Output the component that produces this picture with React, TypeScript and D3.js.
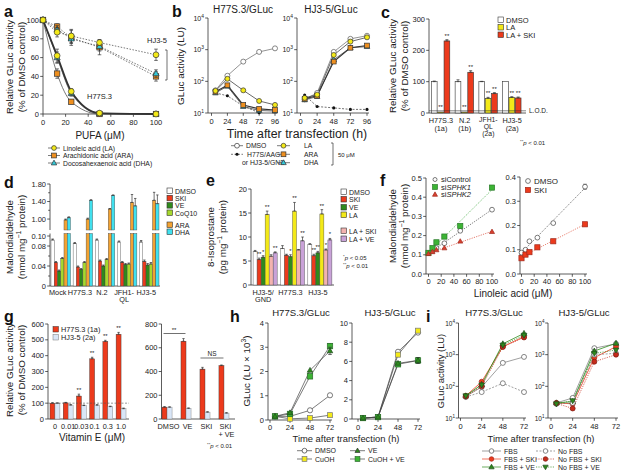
import React, { useEffect, useRef } from "react";
import * as d3 from "d3";

// ---------------- Panel a ----------------
const aConc = [0, 12.5, 25, 50, 100];
const aXTicks = [0, 20, 40, 60, 80, 100];
const aYTicks = [0, 20, 40, 60, 80, 100];
const aH77LA = [100, 62, 24, 1, 0];
const aH77ARA = [100, 43, 13, 0, 0];
const aH77DHA = [100, 60, 22, 0.5, 0];
const aH77LAErr = [0, 7, 3, 0, 0];
const aH77ARAErr = [0, 5, 2, 0, 0];
const aH77DHAErr = [0, 6, 3, 0, 0];
const aHJLA = [100, 87, 83, 76, 63];
const aHJARA = [100, 93, 81, 71, 40];
const aHJDHA = [100, 90, 80, 72, 43];
const aHJLAErr = [0, 5, 7, 3, 6];
const aHJARAErr = [0, 3, 8, 8, 5];
const aHJDHAErr = [0, 4, 5, 5, 4];
const aLegend = ["Linoleic acid (LA)", "Arachidonic acid (ARA)", "Docosahexaenoic acid (DHA)"];

// ---------------- Panel b ----------------
const bTime = [6, 24, 48, 72, 96];
const bXTicks = [0, 24, 48, 72, 96];
const bYTicks = [10, 100, 1000, 10000];
const bH77DMSO = [52, 150, 420, 850, 1100];
const bH77LA = [50, 120, 52, 24, 18];
const bH77ARA = [47, 75, 18, 13.5, 12.5];
const bH77DHA = [43, 70, 16, 12, 11.5];
const bH77GND = [43, 35, 16.5, 10.2];
const bHJDMSO = [27, 43, 850, 2200, 2750];
const bHJLA = [30, 38, 680, 1800, 2450];
const bHJARA = [28, 35, 420, 1150, 1350];
const bHJDHA = [26, 33, 480, 1150, 1250];
const bHJGND = [37, 16, 14.5, 13, 13];

// ---------------- Panel c ----------------
const cCats = ["H77S.3", "N.2", "JFH1-QL", "HJ3-5"];
const cCatLines = [["H77S.3", "(1a)"], ["N.2", "(1b)"], ["JFH1-", "QL", "(2a)"], ["HJ3-5", "(2a)"]];
const cSeries = ["DMSO", "LA", "LA + SKI"];
const cDMSO = [100, 100, 100, 100];
const cLA = [3, 3, 47, 50];
const cLASKI = [230, 130, 62, 48];
const cDMSOErr = [2, 6, 1, 0];
const cLAErr = [0, 0, 3, 2];
const cLASKIErr = [4, 5, 3, 3];
const cYTicks = [0, 100, 200, 300];
const cLOD = 7;

// ---------------- Panel d ----------------
const dCats = ["Mock", "H77S.3", "N.2", "JFH1-QL", "HJ3-5"];
const dSeries = ["DMSO", "SKI", "VE", "CoQ10", "ARA", "DHA"];
const dDMSO = [0.092, 0.085, 0.092, 0.088, 0.088];
const dSKI = [0.047, 0.038, 0.05, 0.047, 0.049];
const dVE = [0.03, 0.033, 0.04, 0.043, 0.042];
const dCoQ10 = [0.055, 0.047, 0.053, 0.044, 0.044];
const dARA = [0.98, 1.0, 1.23, 1.38, 1.43];
const dDHA = [1.03, 1.43, 1.54, 1.3, 1.35];
const dARAErr = [0.02, 0.02, 0.01, 0.18, 0.18];
const dDHAErr = [0.02, 0.01, 0.01, 0.17, 0.2];
const dLowErr = [0.002, 0.002, 0.002, 0.002, 0.003];
const dLowTicks = [0, 0.02, 0.04, 0.06, 0.08, 0.1];
const dLowLabels = ["0", "", "0.04", "", "0.08", "0.10"];
const dUpTicks = [1.0, 1.2, 1.4, 1.6, 1.8];
const dUpLabels = ["1.00", "", "1.40", "", "1.80"];

// ---------------- Panel e ----------------
const eCats = ["HJ3-5/GND", "H77S.3", "HJ3-5"];
const eSeries = ["DMSO", "SKI", "VE", "LA", "LA + SKI", "LA + VE"];
const eDMSO = [7.0, 7.6, 8.5];
const eSKI = [5.3, 6.2, 6.1];
const eVE = [5.8, 5.9, 6.7];
const eLA = [14.7, 15.4, 14.8];
const eLASKI = [6.0, 7.3, 7.3];
const eLAVE = [6.7, 9.2, 9.4];
const eErr = [[0.2, 0.6, 0.1], [0.3, 0.2, 0.3], [0.3, 0.4, 0.3], [0.7, 1.8, 0.9], [0.3, 0.1, 0.2], [0.2, 0.8, 0.3]];
const eStars = [["", "**", "*", "**", "", "**"], ["", "", "*", "**", "", "**"], ["", "**", "**", "**", "*", "*"]];
const eYTicks = [0, 5, 10, 15, 20];

// ---------------- Panel f ----------------
const fConc = [0, 6.25, 12.5, 25, 50, 100];
const fXTicks = [0, 20, 40, 60, 80, 100];
const fSiControl = [0.11, 0.12, 0.135, 0.16, 0.225, 0.335];
const fSiSPHK1 = [0.11, 0.135, 0.165, 0.195, 0.25, 0.45];
const fSiSPHK2 = [0.105, 0.115, 0.125, 0.135, 0.17, 0.22];
const fDMSO = [0.088, 0.1, 0.135, 0.15, 0.21, 0.36];
const fSKI = [0.065, 0.08, 0.09, 0.11, 0.135, 0.205];
const fLeftTicks = [0, 0.1, 0.2, 0.3, 0.4, 0.5];
const fRightTicks = [0, 0.1, 0.2, 0.3, 0.4];

// ---------------- Panel g ----------------
const gDoses = ["0", "0.01", "0.03", "0.1", "0.3", "1.0"];
const gH77 = [100, 102, 145, 380, 490, 535];
const gHJ = [100, 88, 85, 88, 78, 65];
const gH77Err = [3, 3, 12, 10, 7, 12];
const gHJErr = [2, 3, 3, 2, 3, 4];
const gLeftTicks = [0, 100, 200, 300, 400, 500, 600];
const gTreat = ["DMSO", "VE", "SKI", "SKI + VE"];
const gTreatH77 = [100, 655, 420, 450];
const gTreatHJ = [100, 90, 58, 50];
const gTreatH77Err = [4, 22, 15, 5];
const gTreatHJErr = [2, 3, 3, 3];
const gRightTicks = [0, 200, 400, 600, 800];

// ---------------- Panel h ----------------
const hTime = [6, 24, 48, 72];
const hXTicks = [0, 24, 48, 72];
const hH77DMSO = [0.15, 0.15, 0.4, 1.02];
const hH77CuOH = [0.15, 0.05, 0.08, 0.2];
const hH77VE = [0.15, 0.3, 2.05, 2.85];
const hH77CuVE = [0.15, 0.25, 1.8, 3.05];
const hHJDMSO = [0.1, 0.2, 7.0, 9.0];
const hHJCuOH = [0.1, 0.2, 6.7, 9.2];
const hHJVE = [0.1, 0.2, 5.8, 6.1];
const hHJCuVE = [0.1, 0.2, 5.7, 6.1];
const hLeftTicks = [0, 1, 2, 3, 4];
const hRightTicks = [0, 2, 4, 6, 8, 10];

// ---------------- Panel i ----------------
const iTime = [6, 24, 48, 72];
const iH77FBS = [48, 95, 550, 850];
const iH77FBSSKI = [50, 140, 1800, 3700];
const iH77FBSVE = [50, 115, 2200, 4700];
const iH77No = [46, 66, 125, 66];
const iH77NoSKI = [48, 100, 1750, 3500];
const iH77NoVE = [50, 110, 2000, 4100];
const iHJFBS = [30, 43, 1600, 2200];
const iHJFBSSKI = [30, 28, 800, 1800];
const iHJFBSVE = [30, 33, 1300, 2300];
const iHJNo = [28, 30, 1000, 1100];
const iHJNoSKI = [29, 20, 600, 1000];
const iHJNoVE = [28, 35, 1100, 1400];
const iLegend = ["FBS", "FBS + SKI", "FBS + VE", "No FBS", "No FBS + SKI", "No FBS + VE"];

// ---------------- styling ----------------
const FONT = "'Liberation Sans', Arial, Helvetica, sans-serif";
const INK = "#222";
const YEL = "#f3e918";
const ORA = "#ee8f1f";
const CYA = "#33c9d9";
const RED = "#ec3a1c";
const DKRED = "#c62a1a";
const GRN = "#2e8a1c";
const LGRN = "#a6d82e";
const BGRN = "#3cb434";
const PINK = "#f3b3b0";
const LILAC = "#c9a2d8";
const LBLUE = "#d9e6f7";
const DCYA = "#40e0ee";
const DORA = "#f2a232";

type G = any;

function txt(g: G, x: number, y: number, s: string, o: any = {}) {
  const t = g.append("text").attr("x", x).attr("y", y)
    .attr("font-family", FONT).attr("font-size", o.size ?? 7.5)
    .attr("text-anchor", o.anchor ?? "start").attr("fill", o.fill ?? INK);
  if (o.weight) t.attr("font-weight", o.weight);
  if (o.italic) t.attr("font-style", "italic");
  if (o.rotate) t.attr("transform", `rotate(${o.rotate},${x},${y})`);
  t.text(s);
  return t;
}

function rich(g: G, x: number, y: number, parts: any[], o: any = {}) {
  const t = txt(g, x, y, "", o);
  const fs = o.size ?? 7.5;
  let cur = 0;
  parts.forEach((p: any) => {
    const s = p[0], k = p[1];
    const target = k === "sup" ? -fs * 0.4 : 0;
    const sp = t.append("tspan").text(s);
    if (target !== cur) sp.attr("dy", target - cur);
    cur = target;
    if (k === "sup") sp.attr("font-size", fs * 0.7);
    if (k === "i") sp.attr("font-style", "italic");
  });
  return t;
}

function ln(g: G, x1: number, y1: number, x2: number, y2: number, o: any = {}) {
  const l = g.append("line").attr("x1", x1).attr("y1", y1).attr("x2", x2).attr("y2", y2)
    .attr("stroke", o.stroke ?? "#333").attr("stroke-width", o.w ?? 0.8);
  if (o.dash) l.attr("stroke-dasharray", o.dash);
  return l;
}

function yAxis(g: G, sc: any, x: number, ticks: number[], fmt: (v: number, i: number) => any, o: any = {}) {
  const r = o.range ?? sc.range();
  ln(g, x, r[0], x, r[1]);
  const gap = o.gap ?? 4;
  ticks.forEach((v, i) => {
    const yy = sc(v);
    const lab = fmt(v, i);
    ln(g, x - (lab === "" ? 1.8 : 2.8), yy, x, yy);
    if (lab === "" || lab == null) return;
    if (Array.isArray(lab)) rich(g, x - gap, yy + 2.6, lab, { anchor: "end", size: o.fs ?? 7.5 });
    else txt(g, x - gap, yy + 2.6, lab, { anchor: "end", size: o.fs ?? 7.5 });
  });
}

function xAxis(g: G, sc: any, y: number, ticks: number[], x0: number, x1: number, o: any = {}) {
  ln(g, x0, y, x1, y);
  ticks.forEach((v) => {
    const xx = sc(v);
    ln(g, xx, y, xx, y + 2.8);
    txt(g, xx, y + (o.off ?? 10.5), String(v), { anchor: "middle", size: o.fs ?? 7.5 });
  });
}

function mk(g: G, shape: string, x: number, y: number, fill: string, stroke = "#333", r = 2.6, sw = 0.7) {
  if (shape === "circle") {
    g.append("circle").attr("cx", x).attr("cy", y).attr("r", r).attr("fill", fill).attr("stroke", stroke).attr("stroke-width", sw);
  } else if (shape === "square") {
    g.append("rect").attr("x", x - r).attr("y", y - r).attr("width", 2 * r).attr("height", 2 * r).attr("fill", fill).attr("stroke", stroke).attr("stroke-width", sw);
  } else if (shape === "tri") {
    g.append("path").attr("d", `M${x},${y - r * 1.2}L${x + r * 1.15},${y + r * 0.8}L${x - r * 1.15},${y + r * 0.8}Z`).attr("fill", fill).attr("stroke", stroke).attr("stroke-width", sw);
  } else if (shape === "tridown") {
    g.append("path").attr("d", `M${x},${y + r * 1.2}L${x + r * 1.15},${y - r * 0.8}L${x - r * 1.15},${y - r * 0.8}Z`).attr("fill", fill).attr("stroke", stroke).attr("stroke-width", sw);
  } else if (shape === "dot") {
    g.append("circle").attr("cx", x).attr("cy", y).attr("r", r * 0.65).attr("fill", "#111");
  }
}

function errBar(g: G, x: number, yLo: number, yHi: number, cap = 1.6, color = "#333") {
  ln(g, x, yLo, x, yHi, { stroke: color, w: 0.7 });
  ln(g, x - cap, yHi, x + cap, yHi, { stroke: color, w: 0.7 });
  ln(g, x - cap, yLo, x + cap, yLo, { stroke: color, w: 0.7 });
}

function seriesLine(g: G, xs: number[], ys: number[], sx: any, sy: any, o: any) {
  const pts = xs.map((x, i) => [sx(x), sy(ys[i])] as [number, number]);
  const p = g.append("path").attr("d", (d3.line().curve(o.curve ?? d3.curveLinear))(pts) as string)
    .attr("fill", "none").attr("stroke", o.lineColor ?? "#444").attr("stroke-width", o.lw ?? 0.8);
  if (o.dash) p.attr("stroke-dasharray", o.dash);
}

function seriesMarks(g: G, xs: number[], ys: number[], sx: any, sy: any, o: any) {
  xs.forEach((x, i) => {
    if (o.err && o.err[i]) {
      errBar(g, sx(x), sy(ys[i] - o.err[i]), sy(ys[i] + o.err[i]), 1.8);
    }
  });
  xs.forEach((x, i) => mk(g, o.shape, sx(x), sy(ys[i]), o.fill, o.stroke ?? "#333", o.r ?? 2.6, o.sw ?? 0.7));
}

function legendItem(g: G, x: number, y: number, label: any, o: any) {
  ln(g, x, y, x + (o.len ?? 12), y, { stroke: o.lineColor ?? "#444", w: 0.7, dash: o.dash });
  mk(g, o.shape, x + (o.len ?? 12) / 2, y, o.fill, o.stroke ?? "#333", o.r ?? 2.4);
  const tx = x + (o.len ?? 12) + (o.gap ?? 3);
  if (Array.isArray(label)) rich(g, tx, y + 2.5, label, { size: o.size ?? 7 });
  else txt(g, tx, y + 2.5, label, { size: o.size ?? 7 });
}

function swatch(g: G, x: number, y: number, fill: string, label: string, size = 7) {
  g.append("rect").attr("x", x).attr("y", y - 3).attr("width", 5.5).attr("height", 5.5).attr("fill", fill).attr("stroke", "#333").attr("stroke-width", 0.6);
  txt(g, x + 8, y + 2.5, label, { size });
}

const logFmt = (v: number) => [["10"], [String(Math.round(Math.log10(v))), "sup"]];

function letter(g: G, x: number, y: number, s: string) {
  txt(g, x, y, s, { size: 16, weight: "bold", fill: "#111" });
}

function rotLabel(g: G, x: number, y: number, parts: any, size = 9.8) {
  if (Array.isArray(parts)) rich(g, x, y, parts, { size, anchor: "middle", rotate: -90 });
  else txt(g, x, y, parts, { size, anchor: "middle", rotate: -90 });
}

function draw(svg: G) {
  const g = svg.append("g");

  // ======================= a =======================
  {
    letter(g, 4, 17, "a");
    const sx = d3.scaleLinear().domain([0, 100]).range([43, 156]);
    const sy = d3.scaleLinear().domain([0, 100]).range([114, 20]);
    rotLabel(g, 13, 67, "Relative GLuc activity");
    rotLabel(g, 25, 67, "(% of DMSO control)");
    yAxis(g, sy, 43, aYTicks, (v) => String(v));
    xAxis(g, sx, 114, aXTicks, 43, 158);
    txt(g, 100, 139, "PUFA (\u03bcM)", { size: 10, anchor: "middle" });
    seriesLine(g, aConc, aH77DHA, sx, sy, { curve: d3.curveMonotoneX, lineColor: "#666", lw: 0.8 });
    seriesLine(g, aConc, aH77ARA, sx, sy, { curve: d3.curveMonotoneX, lineColor: "#555", lw: 0.8 });
    seriesLine(g, aConc, aH77LA, sx, sy, { curve: d3.curveMonotoneX, lineColor: "#333", lw: 1.8 });
    seriesLine(g, aConc, aHJLA, sx, sy, { lineColor: "#555", lw: 0.8, dash: "1.5,1.5" });
    seriesLine(g, aConc, aHJARA, sx, sy, { lineColor: "#555", lw: 0.8, dash: "1.5,1.5" });
    seriesLine(g, aConc, aHJDHA, sx, sy, { lineColor: "#555", lw: 0.8, dash: "1.5,1.5" });
    seriesMarks(g, aConc, aH77ARA, sx, sy, { shape: "square", fill: ORA, err: aH77ARAErr, r: 2.7 });
    seriesMarks(g, aConc, aH77DHA, sx, sy, { shape: "tri", fill: CYA, err: aH77DHAErr, r: 2.7 });
    seriesMarks(g, aConc, aH77LA, sx, sy, { shape: "circle", fill: YEL, err: aH77LAErr, r: 2.9 });
    seriesMarks(g, aConc, aHJARA, sx, sy, { shape: "square", fill: ORA, err: aHJARAErr, r: 2.7 });
    seriesMarks(g, aConc, aHJDHA, sx, sy, { shape: "tri", fill: CYA, err: aHJDHAErr, r: 2.7 });
    seriesMarks(g, aConc, aHJLA, sx, sy, { shape: "circle", fill: YEL, err: aHJLAErr, r: 2.9 });
    txt(g, 147, 43, "HJ3-5", { size: 7.5 });
    txt(g, 87, 99, "H77S.3", { size: 7.5 });
    ln(g, 167, 50, 167, 80, { w: 0.7 });
    ln(g, 165, 50, 167, 50, { w: 0.7 });
    ln(g, 165, 80, 167, 80, { w: 0.7 });
    const lshapes = [["circle", YEL], ["square", ORA], ["tri", CYA]];
    aLegend.forEach((s, i) => legendItem(g, 48, 148 + i * 7.5, s, { shape: lshapes[i][0], fill: lshapes[i][1], size: 6.8 }));
  }

  // ======================= b =======================
  {
    letter(g, 172, 17, "b");
    rotLabel(g, 184, 66, "GLuc activity (LU)");
    const sy = d3.scaleLog().domain([10, 10000]).range([113, 18]);
    const panels = [
      { x0: 208, sx: d3.scaleLinear().domain([0, 96]).range([211.5, 275]), title: "H77S.3/GLuc", tx: 243,
        d: [bH77DMSO, bH77LA, bH77ARA, bH77DHA], gnd: bH77GND },
      { x0: 297, sx: d3.scaleLinear().domain([0, 96]).range([300.5, 367]), title: "HJ3-5/GLuc", tx: 331,
        d: [bHJDMSO, bHJLA, bHJARA, bHJDHA], gnd: bHJGND },
    ];
    panels.forEach((p) => {
      txt(g, p.tx, 13, p.title, { size: 10, anchor: "middle" });
      yAxis(g, sy, p.x0, bYTicks, logFmt as any, { fs: 7 });
      xAxis(g, p.sx, 113, bXTicks, p.x0, p.sx(96) + 2);
      const gt = bTime.slice(0, p.gnd.length);
      seriesLine(g, gt, p.gnd, p.sx, sy, { lineColor: "#333", lw: 0.7, dash: "2,1.5" });
      seriesLine(g, bTime, p.d[0], p.sx, sy, { lineColor: "#666", lw: 0.7 });
      seriesLine(g, bTime, p.d[1], p.sx, sy, { lineColor: "#444", lw: 0.8 });
      seriesLine(g, bTime, p.d[3], p.sx, sy, { lineColor: "#444", lw: 0.8 });
      seriesLine(g, bTime, p.d[2], p.sx, sy, { lineColor: "#333", lw: 1.1 });
      seriesMarks(g, gt, p.gnd, p.sx, sy, { shape: "dot", fill: "#111", r: 2.4 });
      seriesMarks(g, bTime, p.d[0], p.sx, sy, { shape: "circle", fill: "#fff", stroke: "#555", r: 2.5 });
      seriesMarks(g, bTime, p.d[3], p.sx, sy, { shape: "tri", fill: CYA, r: 2.4 });
      seriesMarks(g, bTime, p.d[2], p.sx, sy, { shape: "square", fill: ORA, r: 2.4 });
      seriesMarks(g, bTime, p.d[1], p.sx, sy, { shape: "circle", fill: YEL, r: 2.5 });
    });
    txt(g, 297, 137.5, "Time after transfection (h)", { size: 12.3, anchor: "middle" });
    legendItem(g, 231, 145.7, "DMSO", { shape: "circle", fill: "#fff", size: 6.8 });
    legendItem(g, 231, 154.3, "H77S/AAG", { shape: "dot", fill: "#111", size: 6.8, dash: "2,1.5", gap: 4 });
    txt(g, 242, 165, "or HJ3-5/GND", { size: 6.8 });
    legendItem(g, 277, 145.7, "LA", { shape: "circle", fill: YEL, size: 6.8, len: 13, gap: 14 });
    legendItem(g, 277, 154.3, "ARA", { shape: "square", fill: ORA, size: 6.8, len: 13, gap: 14 });
    legendItem(g, 277, 162.7, "DHA", { shape: "tri", fill: CYA, size: 6.8, len: 13, gap: 14 });
    ln(g, 333, 143, 333, 165, { w: 0.7 });
    ln(g, 331, 143, 333, 143, { w: 0.7 });
    ln(g, 331, 165, 333, 165, { w: 0.7 });
    txt(g, 338, 157, "50 \u03bcM", { size: 6 });
  }

  // ======================= c =======================
  {
    letter(g, 381, 18, "c");
    rotLabel(g, 396, 66, "Relative GLuc activity");
    rotLabel(g, 408, 66, "(% of DMSO control)");
    const sy = d3.scaleLinear().domain([0, 300]).range([113, 19]);
    const band = d3.scaleBand().domain(cCats).range([429, 524]).paddingInner(0.2).paddingOuter(0.1);
    const inner = d3.scaleBand().domain(cSeries).range([0, band.bandwidth()]);
    yAxis(g, sy, 429, cYTicks, (v) => String(v));
    ln(g, 429, 113, 526, 113);
    const vals = [cDMSO, cLA, cLASKI];
    const errs = [cDMSOErr, cLAErr, cLASKIErr];
    const fills = ["#fff", YEL, RED];
    cCats.forEach((c, i) => {
      cSeries.forEach((s, j) => {
        const x = (band(c) as number) + (inner(s) as number);
        const w = inner.bandwidth() - 0.6;
        const v = vals[j][i];
        g.append("rect").attr("x", x).attr("y", sy(v)).attr("width", w).attr("height", 113 - sy(v))
          .attr("fill", fills[j]).attr("stroke", "#333").attr("stroke-width", 0.6);
        if (errs[j][i]) errBar(g, x + w / 2, sy(v), sy(v + errs[j][i]), 1.5);
        if (j > 0) {
          const top = Math.max(v, cLOD) + errs[j][i];
          txt(g, x + w / 2, sy(top) - 2, "**", { size: 6, anchor: "middle" });
        }
      });
      const cx = (band(c) as number) + band.bandwidth() / 2;
      const lines = cCatLines[i];
      lines.forEach((l, k) => {
        const yy = lines.length === 3 ? 122 + k * 7 : 123 + k * 8;
        txt(g, cx, yy, l, { size: lines.length === 3 ? 6.8 : 7.3, anchor: "middle" });
      });
    });
    ln(g, 429, sy(cLOD), 526, sy(cLOD), { w: 0.6 });
    txt(g, 529, sy(cLOD) + 2.5, "L.O.D.", { size: 6.5 });
    swatch(g, 498, 20, "#fff", "DMSO", 7.5);
    swatch(g, 498, 27.5, YEL, "LA", 7.5);
    swatch(g, 498, 35, RED, "LA + SKI", 7.5);
    rich(g, 520, 145, [["**", "sup"], ["p", "i"], [" < 0.01"]], { size: 6 });
  }

  // ======================= d =======================
  {
    letter(g, 4, 188, "d");
    rotLabel(g, 13, 237, "Malondialdehyde");
    rotLabel(g, 25, 237, [["(nmol mg"], ["\u22121", "sup"], [" protein)"]]);
    const syL = d3.scaleLinear().domain([0, 0.105]).range([286, 233.5]);
    const syU = d3.scaleLinear().domain([0.75, 1.8]).range([230, 184]);
    const band = d3.scaleBand().domain(dCats).range([51, 159]).paddingInner(0.12).paddingOuter(0);
    const inner = d3.scaleBand().domain(dSeries).range([0, band.bandwidth()]);
    yAxis(g, syL, 50, dLowTicks, (v, i) => dLowLabels[i], { range: [286, 233.5] });
    yAxis(g, syU, 50, dUpTicks, (v, i) => dUpLabels[i], { range: [230, 184] });
    ln(g, 50, 286, 160, 286);
    const vals = [dDMSO, dSKI, dVE, dCoQ10, dARA, dDHA];
    const fills = ["#fff", RED, GRN, LGRN, DORA, DCYA];
    dCats.forEach((c, i) => {
      dSeries.forEach((s, j) => {
        const x = (band(c) as number) + (inner(s) as number);
        const w = inner.bandwidth();
        const v = vals[j][i];
        if (j < 4) {
          g.append("rect").attr("x", x).attr("y", syL(v)).attr("width", w).attr("height", 286 - syL(v))
            .attr("fill", fills[j]).attr("stroke", "#444").attr("stroke-width", 0.4);
          errBar(g, x + w / 2, syL(v), syL(v + dLowErr[i]), 1.2);
        } else {
          g.append("rect").attr("x", x).attr("y", 233.5).attr("width", w).attr("height", 286 - 233.5)
            .attr("fill", fills[j]).attr("stroke", "#444").attr("stroke-width", 0.4);
          g.append("rect").attr("x", x).attr("y", syU(v)).attr("width", w).attr("height", 230 - syU(v))
            .attr("fill", fills[j]).attr("stroke", "#444").attr("stroke-width", 0.4);
          const e = j === 4 ? dARAErr[i] : dDHAErr[i];
          errBar(g, x + w / 2, syU(v), syU(v + e), 1.2);
        }
      });
      const cx = (band(c) as number) + band.bandwidth() / 2 - 3;
      if (c === "JFH1-QL") {
        txt(g, cx, 294.5, "JFH1-", { size: 7.3, anchor: "middle" });
        txt(g, cx, 302, "QL", { size: 7.3, anchor: "middle" });
      } else txt(g, cx, 294.5, c, { size: 7.3, anchor: "middle" });
    });
    const ly = [191, 198.3, 205.6, 213, 225, 232];
    dSeries.forEach((s, j) => swatch(g, 167, ly[j], fills[j], s, 7));
  }

  // ======================= e =======================
  {
    letter(g, 206, 186, "e");
    rotLabel(g, 214, 237, "8-Isoprostane");
    rotLabel(g, 226, 237, [["(pg mg"], ["\u22121", "sup"], [" protein)"]]);
    const sy = d3.scaleLinear().domain([0, 20]).range([285, 189]);
    const band = d3.scaleBand().domain(eCats).range([252, 333]).paddingInner(0.12).paddingOuter(0.04);
    const inner = d3.scaleBand().domain(eSeries).range([0, band.bandwidth()]);
    yAxis(g, sy, 251, eYTicks, (v) => String(v));
    ln(g, 251, 285, 334, 285);
    const vals = [eDMSO, eSKI, eVE, eLA, eLASKI, eLAVE];
    const fills = ["#fff", RED, GRN, YEL, PINK, LILAC];
    eCats.forEach((c, i) => {
      eSeries.forEach((s, j) => {
        const x = (band(c) as number) + (inner(s) as number);
        const w = inner.bandwidth();
        const v = vals[j][i];
        g.append("rect").attr("x", x).attr("y", sy(v)).attr("width", w).attr("height", 285 - sy(v))
          .attr("fill", fills[j]).attr("stroke", "#444").attr("stroke-width", 0.4);
        errBar(g, x + w / 2, sy(v), sy(v + eErr[j][i]), 1.3);
        const st = eStars[i][j];
        if (st) txt(g, x + w / 2, sy(v + eErr[j][i]) - 2, st, { size: 6, anchor: "middle" });
      });
      const cx = (band(c) as number) + band.bandwidth() / 2 - 2;
      if (c === "HJ3-5/GND") {
        txt(g, cx, 294.5, "HJ3-5/", { size: 7.3, anchor: "middle" });
        txt(g, cx, 302, "GND", { size: 7.3, anchor: "middle" });
      } else txt(g, cx, 294.5, c, { size: 7.3, anchor: "middle" });
    });
    const ly = [192, 199.5, 207.5, 215, 231, 239];
    eSeries.forEach((s, j) => swatch(g, 341, ly[j], fills[j], s, 7));
    rich(g, 343, 260, [["*", "sup"], ["p", "i"], [" < 0.05"]], { size: 6 });
    rich(g, 343, 268, [["**", "sup"], ["p", "i"], [" < 0.01"]], { size: 6 });
  }

  // ======================= f =======================
  {
    letter(g, 380, 186, "f");
    rotLabel(g, 396, 226, "Malondialdehyde");
    rotLabel(g, 408, 226, [["(nmol mg"], ["\u22121", "sup"], [" protein)"]]);
    const fit = (xs: number[], ys: number[]) => {
      const mx = d3.mean(xs) as number, my = d3.mean(ys) as number;
      const b = d3.sum(xs.map((x, i) => (x - mx) * (ys[i] - my))) / d3.sum(xs.map((x) => (x - mx) ** 2));
      return [my - b * mx, my + b * (100 - mx)];
    };
    const sxL = d3.scaleLinear().domain([0, 100]).range([428.5, 492]);
    const syL = d3.scaleLinear().domain([0, 0.5]).range([274, 178]);
    yAxis(g, syL, 426, fLeftTicks, (v) => v.toFixed(1));
    xAxis(g, sxL, 274, fXTicks, 426, 494, { off: 9.5 });
    const lfits: any[] = [[fSiSPHK1, "#3aa63a"], [fSiControl, "#444"], [fSiSPHK2, "#d8402e"]];
    lfits.forEach(([ys, col]) => {
      const [y0, y1] = fit(fConc, ys);
      ln(g, sxL(0), syL(y0), sxL(100), syL(y1), { stroke: col, w: 0.7, dash: "1.2,1.2" });
    });
    seriesMarks(g, fConc, fSiControl, sxL, syL, { shape: "circle", fill: "#fff", stroke: "#444", r: 2.4 });
    seriesMarks(g, fConc, fSiSPHK1, sxL, syL, { shape: "square", fill: BGRN, stroke: "#2a7a2a", r: 2.6, err: [0, 0, 0, 0, 0, 0.01] });
    seriesMarks(g, fConc, fSiSPHK2, sxL, syL, { shape: "tri", fill: "#d8402e", stroke: "#a02a1e", r: 2.2 });
    mk(g, "circle", 435, 179.5, "#fff", "#444", 2);
    txt(g, 441, 182, "siControl", { size: 7.5 });
    mk(g, "square", 435, 187, BGRN, "#2a7a2a", 2.4);
    rich(g, 441, 189.5, [["si"], ["SPHK1", "i"]], { size: 7.5 });
    mk(g, "tri", 435, 194.5, "#d8402e", "#a02a1e", 2.2);
    rich(g, 441, 197, [["si"], ["SPHK2", "i"]], { size: 7.5 });
    const sxR = d3.scaleLinear().domain([0, 100]).range([521.5, 585]);
    const syR = d3.scaleLinear().domain([0, 0.4]).range([274, 177]);
    yAxis(g, syR, 520, fRightTicks, (v) => v.toFixed(1));
    xAxis(g, sxR, 274, fXTicks, 520, 587, { off: 9.5 });
    const rfits: any[] = [[fDMSO, "#444"], [fSKI, "#e0503a"]];
    rfits.forEach(([ys, col]) => {
      const [y0, y1] = fit(fConc, ys);
      ln(g, sxR(0), syR(y0), sxR(100), syR(y1), { stroke: col, w: 0.7, dash: "1.2,1.2" });
    });
    seriesMarks(g, fConc, fDMSO, sxR, syR, { shape: "circle", fill: "#fff", stroke: "#444", r: 2.4, err: [0, 0, 0, 0, 0, 0.01] });
    seriesMarks(g, fConc, fSKI, sxR, syR, { shape: "square", fill: RED, stroke: "#a02a1e", r: 2.6, err: [0, 0, 0, 0, 0, 0.006] });
    mk(g, "circle", 528, 181, "#fff", "#444", 2.4);
    txt(g, 534, 184, "DMSO", { size: 8 });
    mk(g, "square", 528, 190, RED, "#a02a1e", 2.6);
    txt(g, 534, 193, "SKI", { size: 8 });
    txt(g, 513, 297, "Linoleic acid (\u03bcM)", { size: 10, anchor: "middle" });
  }

  // ======================= g =======================
  {
    letter(g, 4, 322, "g");
    rotLabel(g, 13, 370, "Relative GLuc activity");
    rotLabel(g, 25, 370, "(% of DMSO control)");
    const syL = d3.scaleLinear().domain([0, 600]).range([419, 324]);
    const band = d3.scaleBand().domain(gDoses).range([48, 128]).paddingInner(0.25).paddingOuter(0.15);
    yAxis(g, syL, 48, gLeftTicks, (v) => String(v));
    ln(g, 48, 419, 129, 419);
    gDoses.forEach((dname, i) => {
      const x = band(dname) as number;
      const w = band.bandwidth() / 2;
      g.append("rect").attr("x", x).attr("y", syL(gH77[i])).attr("width", w).attr("height", 419 - syL(gH77[i]))
        .attr("fill", RED).attr("stroke", "#333").attr("stroke-width", 0.4);
      g.append("rect").attr("x", x + w).attr("y", syL(gHJ[i])).attr("width", w).attr("height", 419 - syL(gHJ[i]))
        .attr("fill", LBLUE).attr("stroke", "#777").attr("stroke-width", 0.4);
      errBar(g, x + w / 2, syL(gH77[i]), syL(gH77[i] + gH77Err[i]), 1.2);
      errBar(g, x + 1.5 * w, syL(gHJ[i]), syL(gHJ[i] + gHJErr[i]), 1.2);
      if (i >= 2) txt(g, x + w / 2, syL(gH77[i] + gH77Err[i]) - 2.5, "**", { size: 6, anchor: "middle" });
      txt(g, x + w, 429, dname, { size: 7.3, anchor: "middle" });
    });
    ln(g, 48, syL(100), 129, syL(100), { w: 0.6, dash: "2,1.5", stroke: "#555" });
    txt(g, 92, 441, "Vitamin E (\u03bcM)", { size: 10, anchor: "middle" });
    g.append("rect").attr("x", 53).attr("y", 326.5).attr("width", 5.5).attr("height", 5.5).attr("fill", RED).attr("stroke", "#333").attr("stroke-width", 0.5);
    txt(g, 61, 332, "H77S.3 (1a)", { size: 7.3 });
    g.append("rect").attr("x", 53).attr("y", 334.5).attr("width", 5.5).attr("height", 5.5).attr("fill", LBLUE).attr("stroke", "#777").attr("stroke-width", 0.5);
    txt(g, 61, 340, "HJ3-5 (2a)", { size: 7.3 });
    const syR = d3.scaleLinear().domain([0, 800]).range([419, 324]);
    const bandR = d3.scaleBand().domain(gTreat).range([162, 229]).paddingInner(0.47).paddingOuter(0);
    yAxis(g, syR, 161.5, gRightTicks, (v) => String(v));
    ln(g, 161.5, 419, 235, 419);
    gTreat.forEach((t, i) => {
      const x = bandR(t) as number;
      const w = bandR.bandwidth() / 2;
      g.append("rect").attr("x", x).attr("y", syR(gTreatH77[i])).attr("width", w).attr("height", 419 - syR(gTreatH77[i]))
        .attr("fill", RED).attr("stroke", "#333").attr("stroke-width", 0.4);
      g.append("rect").attr("x", x + w).attr("y", syR(gTreatHJ[i])).attr("width", w).attr("height", 419 - syR(gTreatHJ[i]))
        .attr("fill", LBLUE).attr("stroke", "#777").attr("stroke-width", 0.4);
      errBar(g, x + w / 2, syR(gTreatH77[i]), syR(gTreatH77[i] + gTreatH77Err[i]), 1.2);
      errBar(g, x + 1.5 * w, syR(gTreatHJ[i]), syR(gTreatHJ[i] + gTreatHJErr[i]), 1.2);
      const cx = x + w + 1.5;
      if (t === "SKI + VE") {
        txt(g, cx, 429, "SKI", { size: 7.3, anchor: "middle" });
        txt(g, cx + 1, 436.5, "+ VE", { size: 7.3, anchor: "middle" });
      } else txt(g, cx, 429, t, { size: 7.3, anchor: "middle" });
    });
    const xD = (bandR("DMSO") as number) + bandR.bandwidth() / 4;
    const xV = (bandR("VE") as number) + bandR.bandwidth() / 4;
    ln(g, xD - 1, 333.5, xV + 2, 333.5, { w: 0.7 });
    txt(g, (xD + xV) / 2, 331.5, "**", { size: 6, anchor: "middle" });
    const xS = (bandR("SKI") as number) + bandR.bandwidth() / 4;
    const xSV = (bandR("SKI + VE") as number) + bandR.bandwidth() / 4;
    ln(g, xS - 2, 358, xSV + 2, 358, { w: 0.7 });
    txt(g, (xS + xSV) / 2, 355.5, "NS", { size: 6.5, anchor: "middle" });
    rich(g, 207, 448, [["**", "sup"], ["p", "i"], [" < 0.01"]], { size: 6 });
  }

  // ======================= h =======================
  {
    letter(g, 230, 322, "h");
    rotLabel(g, 250, 371, [["GLuc (LU \u00d7 10"], ["3", "sup"], [")"]]);
    const sxL = d3.scaleLinear().domain([0, 72]).range([270, 330]);
    const syL = d3.scaleLinear().domain([0, 4]).range([420, 323]);
    const sxR = d3.scaleLinear().domain([0, 72]).range([358, 418]);
    const syR = d3.scaleLinear().domain([0, 10]).range([419, 323]);
    txt(g, 301, 315.5, "H77S.3/GLuc", { size: 9.6, anchor: "middle" });
    txt(g, 390, 315.5, "HJ3-5/GLuc", { size: 9.6, anchor: "middle" });
    yAxis(g, syL, 268, hLeftTicks, (v) => String(v));
    xAxis(g, sxL, 420, hXTicks, 268, 332, { off: 10 });
    yAxis(g, syR, 352, hRightTicks, (v) => String(v));
    xAxis(g, sxR, 419, hXTicks, 352, 420, { off: 10.5 });
    const sets = [
      { sx: sxL, sy: syL, d: [hH77DMSO, hH77CuOH, hH77VE, hH77CuVE], err: [0, 0, 0.15, 0.1] },
      { sx: sxR, sy: syR, d: [hHJDMSO, hHJCuOH, hHJVE, hHJCuVE], err: [0.2, 0.2, 0.3, 0.3] },
    ];
    sets.forEach((s) => {
      s.d.forEach((ys) => seriesLine(g, hTime, ys, s.sx, s.sy, { lineColor: "#444", lw: 0.7 }));
      seriesMarks(g, hTime, s.d[0], s.sx, s.sy, { shape: "circle", fill: "#fff", stroke: "#444", r: 2.6 });
      seriesMarks(g, hTime, s.d[1], s.sx, s.sy, { shape: "square", fill: YEL, stroke: "#777", r: 2.5 });
      seriesMarks(g, hTime, s.d[3], s.sx, s.sy, { shape: "square", fill: BGRN, stroke: "#2a6a2a", r: 2.7, err: [0, 0, 0, s.err[3]] });
      seriesMarks(g, hTime, s.d[2], s.sx, s.sy, { shape: "tri", fill: GRN, stroke: "#1e4a1e", r: 2.4, err: [0, 0, 0, s.err[2]] });
    });
    txt(g, 346, 442, "Time after transfection (h)", { size: 9.4, anchor: "middle" });
    legendItem(g, 297, 450.7, "DMSO", { shape: "circle", fill: "#fff", len: 15, size: 7 });
    legendItem(g, 297, 459, "CuOH", { shape: "square", fill: YEL, stroke: "#777", len: 15, size: 7 });
    legendItem(g, 350, 450.7, "VE", { shape: "tri", fill: GRN, len: 15, size: 7, r: 2.2 });
    legendItem(g, 350, 459, "CuOH + VE", { shape: "square", fill: BGRN, stroke: "#2a6a2a", len: 15, size: 7 });
  }

  // ======================= i =======================
  {
    letter(g, 426, 322, "i");
    rotLabel(g, 444, 371, "GLuc activity (LU)", 9.4);
    const sy = d3.scaleLog().domain([10, 10000]).range([418, 323]);
    const sxL = d3.scaleLinear().domain([0, 72]).range([460.5, 524]);
    const sxR = d3.scaleLinear().domain([0, 72]).range([551, 616]);
    txt(g, 494, 315.5, "H77S.3/GLuc", { size: 9.6, anchor: "middle" });
    txt(g, 584, 315.5, "HJ3-5/GLuc", { size: 9.6, anchor: "middle" });
    yAxis(g, sy, 458.5, bYTicks, logFmt as any, { fs: 6.5, gap: 3.5 });
    xAxis(g, sxL, 418, hXTicks, 458.5, 526, { off: 10.5 });
    yAxis(g, sy, 548, bYTicks, logFmt as any, { fs: 6.5, gap: 3.5 });
    xAxis(g, sxR, 418, hXTicks, 548, 618, { off: 10.5 });
    const styles: any[] = [
      { shape: "circle", fill: "#fff", stroke: "#555", lineColor: "#777", lw: 0.7 },
      { shape: "circle", fill: RED, stroke: "#a02a1e", lineColor: RED, lw: 0.8 },
      { shape: "tri", fill: GRN, stroke: "#1e4a1e", lineColor: GRN, lw: 0.8 },
      { shape: "circle", fill: "#fff", stroke: "#555", lineColor: "#777", lw: 0.7, dash: "2,1.5" },
      { shape: "circle", fill: DKRED, stroke: "#7a1a10", lineColor: DKRED, lw: 0.7, dash: "1.2,1.2" },
      { shape: "tridown", fill: GRN, stroke: "#1e4a1e", lineColor: GRN, lw: 0.7, dash: "1.2,1.2" },
    ];
    const setsI = [
      { sx: sxL, d: [iH77FBS, iH77FBSSKI, iH77FBSVE, iH77No, iH77NoSKI, iH77NoVE] },
      { sx: sxR, d: [iHJFBS, iHJFBSSKI, iHJFBSVE, iHJNo, iHJNoSKI, iHJNoVE] },
    ];
    setsI.forEach((s) => {
      s.d.forEach((ys, k) => seriesLine(g, iTime, ys, s.sx, sy, styles[k]));
      s.d.forEach((ys, k) => seriesMarks(g, iTime, ys, s.sx, sy, { ...styles[k], r: 2.5 }));
    });
    txt(g, 541, 442, "Time after transfection (h)", { size: 9.4, anchor: "middle" });
    iLegend.forEach((l, k) => {
      const col = k < 3 ? 482 : 536;
      const yy = 451 + (k % 3) * 8;
      legendItem(g, col, yy, l, { ...styles[k], len: 19, size: 7, gap: 3, r: 2.3 });
    });
  }
}

export default function App() {
  const ref = useRef<SVGSVGElement>(null);
  useEffect(() => {
    const svg = d3.select(ref.current);
    svg.selectAll("*").remove();
    draw(svg);
  }, []);
  return (
    <svg ref={ref} width={626} height={476}
      style={{ position: "absolute", left: 0, top: 0, background: "#fff" }} />
  );
}
